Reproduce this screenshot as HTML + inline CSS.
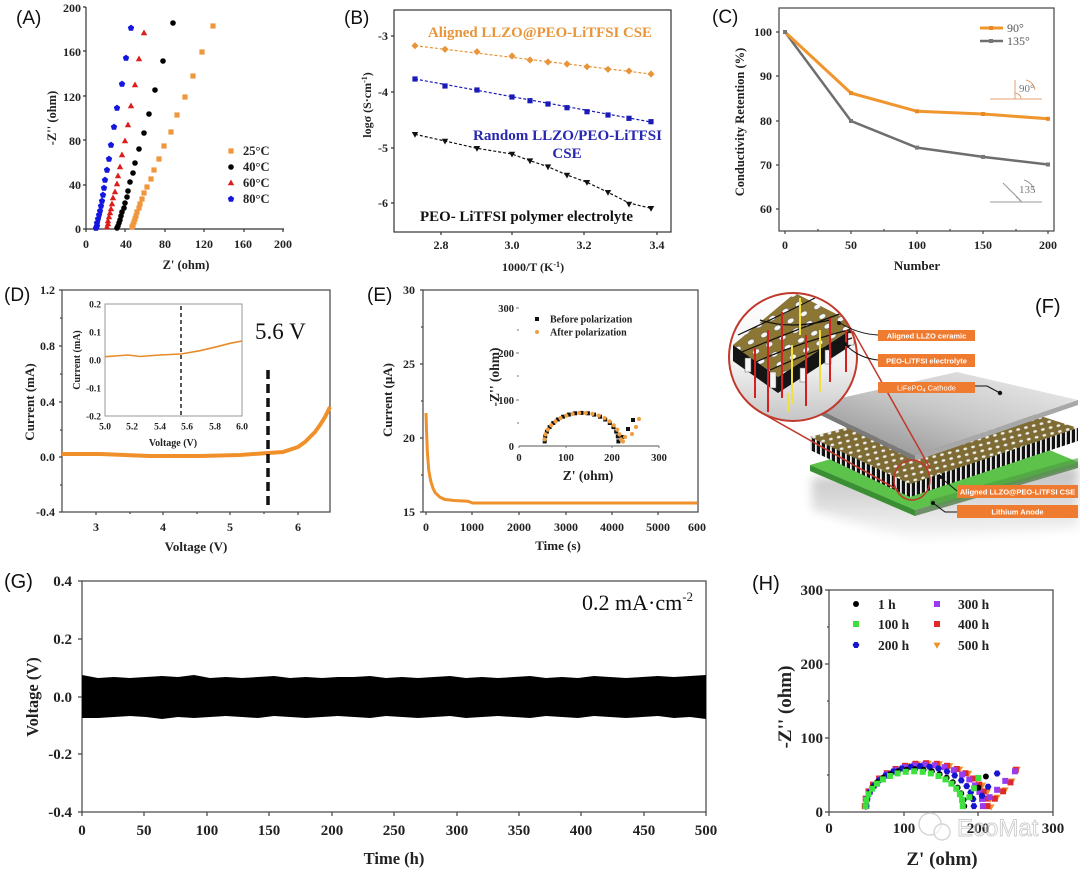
<!DOCTYPE html>
<html><head><meta charset="utf-8">
<style>
html,body{margin:0;padding:0;background:#fff;}
svg{display:block;}
.s{font-family:"Liberation Serif",serif;font-weight:bold;fill:#222;}
.r{font-family:"Liberation Serif",serif;}
.n{font-family:"Liberation Sans",sans-serif;fill:#111;}
</style></head><body>
<svg width="1080" height="871" viewBox="0 0 1080 871" xmlns="http://www.w3.org/2000/svg">
<defs>
<rect id="sq" x="-2.6" y="-2.6" width="5.2" height="5.2"/>
<rect id="sqs" x="-2" y="-2" width="4" height="4"/>
<rect id="sqh" x="-3" y="-3" width="6" height="6"/>
<path id="tu" d="M0,-3.5L3.2,2.3L-3.2,2.3Z"/>
<path id="td" d="M0,3.5L3.2,-2.3L-3.2,-2.3Z"/>
<path id="tdh" d="M0,3.8L3.5,-2.4L-3.5,-2.4Z"/>
<path id="pe" d="M0,-3.4L3.2,-1L2,2.8L-2,2.8L-3.2,-1Z"/>
<path id="hx" d="M-1.7,-3L1.7,-3L3.4,0L1.7,3L-1.7,3L-3.4,0Z"/>
<path id="di" d="M0,-3.6L3.6,0L0,3.6L-3.6,0Z"/>
<linearGradient id="gp" x1="0" y1="1" x2="1" y2="0"><stop offset="0" stop-color="#858585"/><stop offset="0.5" stop-color="#c6c6c6"/><stop offset="1" stop-color="#f0f0f0"/></linearGradient>
<pattern id="dots" width="8" height="6" patternUnits="userSpaceOnUse" patternTransform="rotate(-14)"><rect width="8" height="6" fill="#7f6c35"/><ellipse cx="4" cy="3" rx="1.9" ry="1.3" fill="#eeeeee"/></pattern>
<pattern id="dots2" width="15" height="11" patternUnits="userSpaceOnUse" patternTransform="rotate(-28)"><rect width="15" height="11" fill="#8c7634"/><ellipse cx="7.5" cy="5.5" rx="3.6" ry="2.4" fill="#f7f7f7" stroke="#555" stroke-width="0.5"/></pattern>
<pattern id="str" width="5" height="14" patternUnits="userSpaceOnUse"><rect width="5" height="14" fill="#111"/><rect width="1.8" height="14" fill="#eee"/></pattern>
<linearGradient id="cg" x1="0" y1="0" x2="0" y2="1"><stop offset="0" stop-color="#fff"/><stop offset="0.55" stop-color="#f2f2f2"/><stop offset="1" stop-color="#c2c2c2"/></linearGradient>
<linearGradient id="shg" x1="0" y1="0" x2="0" y2="1"><stop offset="0" stop-color="#bfbfbf"/><stop offset="1" stop-color="#fafafa"/></linearGradient>
<filter id="bl" x="-20%" y="-50%" width="140%" height="200%"><feGaussianBlur stdDeviation="5"/></filter>
<clipPath id="cc"><circle cx="793" cy="357" r="64"/></clipPath>
<clipPath id="ce"><rect x="0" y="280" width="706" height="290"/></clipPath>
<clipPath id="cgb"><rect x="82" y="581" width="624" height="231"/></clipPath>
</defs>
<rect width="1080" height="871" fill="#fff"/>

<!-- ================= PANEL A ================= -->
<text class="n" x="16" y="24" font-size="19">(A)</text>
<g stroke="#333" stroke-width="1.2" fill="none">
<path d="M86,7V229H284"/>
<path d="M86,229h-3M86,185h-3M86,140h-3M86,96h-3M86,51h-3M86,7h-3"/>
<path d="M86,229v3M125,229v3M165,229v3M204,229v3M244,229v3M283,229v3"/>
</g>
<g class="s" font-size="12" text-anchor="end">
<text x="81" y="233">0</text><text x="81" y="189">40</text><text x="81" y="145">80</text>
<text x="81" y="101">120</text><text x="81" y="56">160</text><text x="81" y="12">200</text>
</g>
<g class="s" font-size="12" text-anchor="middle">
<text x="86" y="248">0</text><text x="126" y="248">40</text><text x="165" y="248">80</text>
<text x="204" y="248">120</text><text x="243" y="248">160</text><text x="283" y="248">200</text>
<text x="186" y="269" font-size="12.5">Z' (ohm)</text>
<text transform="translate(56,118) rotate(-90)" font-size="12.5">-Z'' (ohm)</text>
</g>
<g fill="#f0963c">
<use href="#sq" x="213" y="26"/><use href="#sq" x="202" y="52"/><use href="#sq" x="193" y="76"/><use href="#sq" x="185" y="97"/><use href="#sq" x="177" y="115"/><use href="#sq" x="171" y="132"/><use href="#sq" x="164" y="146"/><use href="#sq" x="159" y="159"/><use href="#sq" x="154" y="170"/><use href="#sq" x="151" y="179"/><use href="#sq" x="147" y="187"/><use href="#sq" x="144" y="193"/><use href="#sq" x="142" y="199"/><use href="#sq" x="140" y="204"/><use href="#sq" x="139" y="208"/><use href="#sq" x="137" y="212"/><use href="#sq" x="136" y="216"/><use href="#sq" x="135" y="219"/><use href="#sq" x="134" y="222"/><use href="#sq" x="133" y="225"/><use href="#sq" x="132" y="227"/>
</g>
<g fill="#000">
<circle cx="173" cy="23" r="2.8"/><circle cx="163" cy="61" r="2.8"/><circle cx="155" cy="90" r="2.8"/><circle cx="149" cy="114" r="2.8"/><circle cx="144" cy="133" r="2.8"/><circle cx="139" cy="149" r="2.8"/><circle cx="135" cy="163" r="2.8"/><circle cx="133" cy="173" r="2.8"/><circle cx="130" cy="182" r="2.8"/><circle cx="128" cy="191" r="2.8"/><circle cx="127" cy="197" r="2.8"/><circle cx="125" cy="203" r="2.8"/><circle cx="124" cy="208" r="2.8"/><circle cx="122" cy="212" r="2.8"/><circle cx="121" cy="216" r="2.8"/><circle cx="120" cy="220" r="2.8"/><circle cx="119" cy="223" r="2.8"/><circle cx="118" cy="226" r="2.8"/><circle cx="117" cy="228" r="2.8"/>
</g>
<g fill="#dd1c1c">
<use href="#tu" x="144" y="33"/><use href="#tu" x="139" y="59"/><use href="#tu" x="135" y="85"/><use href="#tu" x="131" y="106"/><use href="#tu" x="128" y="125"/><use href="#tu" x="125" y="141"/><use href="#tu" x="122" y="155"/><use href="#tu" x="120" y="167"/><use href="#tu" x="118" y="176"/><use href="#tu" x="117" y="184"/><use href="#tu" x="115" y="192"/><use href="#tu" x="113" y="198"/><use href="#tu" x="112" y="204"/><use href="#tu" x="111" y="209"/><use href="#tu" x="110" y="213"/><use href="#tu" x="109" y="217"/><use href="#tu" x="108" y="221"/><use href="#tu" x="108" y="224"/><use href="#tu" x="107" y="227"/>
</g>
<g fill="#1515e0">
<use href="#pe" x="131" y="28"/><use href="#pe" x="126" y="58"/><use href="#pe" x="122" y="84"/><use href="#pe" x="117" y="108"/><use href="#pe" x="114" y="127"/><use href="#pe" x="111" y="145"/><use href="#pe" x="109" y="159"/><use href="#pe" x="107" y="170"/><use href="#pe" x="105" y="180"/><use href="#pe" x="104" y="188"/><use href="#pe" x="103" y="195"/><use href="#pe" x="102" y="201"/><use href="#pe" x="101" y="206"/><use href="#pe" x="100" y="211"/><use href="#pe" x="99" y="215"/><use href="#pe" x="98" y="219"/><use href="#pe" x="97" y="223"/><use href="#pe" x="97" y="226"/><use href="#pe" x="96" y="228"/>
</g>
<use href="#sq" x="231" y="151" fill="#f0963c"/>
<circle cx="231" cy="167" r="2.8" fill="#000"/>
<use href="#tu" x="231" y="183" fill="#dd1c1c"/>
<use href="#pe" x="231" y="199" fill="#1515e0"/>
<g class="s" font-size="12.5">
<text x="243" y="155">25°C</text><text x="243" y="171">40°C</text><text x="243" y="187">60°C</text><text x="243" y="203">80°C</text>
</g>

<!-- ================= PANEL B ================= -->
<text class="n" x="344" y="24" font-size="19">(B)</text>
<rect x="394" y="10" width="277" height="222" fill="none" stroke="#333" stroke-width="1.2"/>
<g stroke="#333" stroke-width="1.2">
<path d="M394,36h-3M394,92h-3M394,148h-3M394,203h-3"/>
<path d="M441,232v3M512,232v3M584,232v3M657,232v3"/>
</g>
<g class="s" font-size="12" text-anchor="end">
<text x="388" y="40">-3</text><text x="388" y="96">-4</text><text x="388" y="152">-5</text><text x="388" y="207">-6</text>
</g>
<g class="s" font-size="12" text-anchor="middle">
<text x="441" y="249">2.8</text><text x="512" y="249">3.0</text><text x="584" y="249">3.2</text><text x="657" y="249">3.4</text>
<text x="533" y="271" font-size="12">1000/T (K<tspan dy="-4" font-size="8">-1</tspan><tspan dy="4">)</tspan></text>
<text transform="translate(371,105) rotate(-90)" font-size="12">logσ (S·cm<tspan dy="-4" font-size="8">-1</tspan><tspan dy="4">)</tspan></text>
</g>
<g fill="none" stroke-width="1.2" stroke-dasharray="3 2">
<path d="M415,45.7L651,74" stroke="#e8953a"/>
<path d="M415,79L651,122" stroke="#1a1ab8"/>
<path d="M415,134.3L445,141L477,148.3L512,154L530,160.7L548,166.7L567,175L587,182.3L608,192.3L629,203L651,208.3" stroke="#111"/>
</g>
<g fill="#e8953a">
<use href="#di" x="415" y="45.7"/><use href="#di" x="445" y="49.3"/><use href="#di" x="477" y="51.7"/><use href="#di" x="512" y="56"/><use href="#di" x="530" y="60"/><use href="#di" x="548" y="62"/><use href="#di" x="567" y="64"/><use href="#di" x="587" y="66.7"/><use href="#di" x="608" y="69.3"/><use href="#di" x="629" y="71"/><use href="#di" x="651" y="74"/>
</g>
<g fill="#1a1ab8">
<use href="#sq" x="415" y="79"/><use href="#sq" x="445" y="86"/><use href="#sq" x="477" y="90"/><use href="#sq" x="512" y="97"/><use href="#sq" x="530" y="100.7"/><use href="#sq" x="548" y="104"/><use href="#sq" x="567" y="107.7"/><use href="#sq" x="587" y="111.7"/><use href="#sq" x="608" y="115"/><use href="#sq" x="629" y="118.3"/><use href="#sq" x="651" y="121.7"/>
</g>
<g fill="#111">
<use href="#td" x="415" y="134.3"/><use href="#td" x="445" y="141"/><use href="#td" x="477" y="148.3"/><use href="#td" x="512" y="154"/><use href="#td" x="530" y="160.7"/><use href="#td" x="548" y="166.7"/><use href="#td" x="567" y="175"/><use href="#td" x="587" y="182.3"/><use href="#td" x="608" y="192.3"/><use href="#td" x="629" y="204"/><use href="#td" x="651" y="208.3"/>
</g>
<text class="s" x="428" y="37" font-size="15" style="fill:#e8953a" textLength="224" lengthAdjust="spacingAndGlyphs">Aligned LLZO@PEO-LiTFSI CSE</text>
<text class="s" x="473" y="140" font-size="15" style="fill:#2727b0" textLength="189" lengthAdjust="spacingAndGlyphs">Random LLZO/PEO-LiTFSI</text>
<text class="s" x="567" y="158" font-size="15" style="fill:#2727b0" text-anchor="middle">CSE</text>
<text class="s" x="420" y="221" font-size="15" style="fill:#111" textLength="213" lengthAdjust="spacingAndGlyphs">PEO- LiTFSI polymer electrolyte</text>

<!-- ================= PANEL C ================= -->
<text class="n" x="712" y="23" font-size="19">(C)</text>
<rect x="779" y="8" width="275" height="223" fill="none" stroke="#444" stroke-width="1.2"/>
<g stroke="#444" stroke-width="1.2">
<path d="M779,32h-3M779,76h-3M779,121h-3M779,165h-3M779,209h-3"/>
<path d="M785,231v3M851,231v3M917,231v3M983,231v3M1048,231v3"/>
<path d="M818,231v-2M884,231v-2M950,231v-2M1016,231v-2"/>
</g>
<g class="s" font-size="12" text-anchor="end">
<text x="772" y="36">100</text><text x="772" y="80">90</text><text x="772" y="125">80</text><text x="772" y="169">70</text><text x="772" y="213">60</text>
</g>
<g class="s" font-size="12" text-anchor="middle">
<text x="785" y="249">0</text><text x="851" y="249">50</text><text x="917" y="249">100</text><text x="983" y="249">150</text><text x="1048" y="249">200</text>
<text x="917" y="270" font-size="13">Number</text>
<text transform="translate(744,122) rotate(-90)" font-size="12.5">Conductivity Retention (%)</text>
</g>
<polyline points="785,32 851,121 917,147.6 983,156.9 1048,164.5" fill="none" stroke="#6e6e6e" stroke-width="2.5"/>
<polyline points="785,32 851,93.1 917,111.3 983,114 1048,118.8" fill="none" stroke="#f0962e" stroke-width="3"/>
<g fill="#777"><use href="#sqs" x="785" y="32"/><use href="#sqs" x="851" y="121"/><use href="#sqs" x="917" y="147.6"/><use href="#sqs" x="983" y="156.9"/><use href="#sqs" x="1048" y="164.5"/></g>
<g fill="#e88a24"><use href="#sqs" x="851" y="93.1"/><use href="#sqs" x="917" y="111.3"/><use href="#sqs" x="983" y="114"/><use href="#sqs" x="1048" y="118.8"/></g>
<path d="M980,28H1003" stroke="#f0962e" stroke-width="3"/><use href="#sqs" x="991" y="28" fill="#e88a24"/>
<path d="M980,41H1003" stroke="#6e6e6e" stroke-width="2.5"/><use href="#sqs" x="991" y="41" fill="#777"/>
<text class="r" x="1007" y="32" font-size="12" fill="#555">90°</text>
<text class="r" x="1007" y="45" font-size="12" fill="#555">135°</text>
<g stroke="#e0a070" stroke-width="1" fill="none">
<path d="M990,99H1042"/><path d="M1015,80V99"/><path d="M1015,93a6,6 0 0 1 6,6"/>
<path d="M1026,80a12,12 0 0 1 9,10"/>
</g>
<text class="r" x="1019" y="92" font-size="11" fill="#777">90°</text>
<g stroke="#999" stroke-width="1" fill="none">
<path d="M990,202H1042"/><path d="M1003,183L1022,202"/><path d="M1016,197a6,6 0 0 1 4,4"/>
<path d="M1024,180a14,14 0 0 1 10,10"/>
</g>
<text class="r" x="1019" y="193" font-size="11" fill="#777">135</text>

<!-- ================= PANEL D ================= -->
<text class="n" x="4" y="301" font-size="19">(D)</text>
<rect x="62" y="290" width="268" height="222" fill="none" stroke="#444" stroke-width="1.2"/>
<g stroke="#444" stroke-width="1.2">
<path d="M62,290h-3M62,346h-3M62,402h-3M62,457h-3M62,512h-3M62,318h-2M62,374h-2M62,430h-2M62,485h-2"/>
<path d="M96,512v3M163,512v3M230,512v3M298,512v3M130,512v2M197,512v2M264,512v2"/>
</g>
<g class="s" font-size="12" text-anchor="end">
<text x="55" y="294">1.2</text><text x="55" y="350">0.8</text><text x="55" y="406">0.4</text><text x="55" y="461">0.0</text><text x="55" y="516">-0.4</text>
</g>
<g class="s" font-size="12" text-anchor="middle">
<text x="96" y="531">3</text><text x="163" y="531">4</text><text x="230" y="531">5</text><text x="298" y="531">6</text>
<text x="196" y="551" font-size="13">Voltage (V)</text>
<text transform="translate(34,402) rotate(-90)" font-size="13">Current (mA)</text>
</g>
<polyline points="62,454 100,454 125,455 150,456 200,456 240,455 268,453 283,452 298,447 305,442 310,437 315,432 320,425 325,417 330,407" fill="none" stroke="#f0902a" stroke-width="4"/>
<path d="M268,370V510" stroke="#111" stroke-width="3.5" stroke-dasharray="9 5"/>
<text class="r" x="255" y="339" font-size="23" fill="#111">5.6 V</text>
<rect x="105" y="304" width="137" height="112" fill="none" stroke="#999" stroke-width="1"/>
<g class="s" font-size="9.5" text-anchor="end">
<text x="101" y="307.5">0.2</text><text x="101" y="335.5">0.1</text><text x="101" y="363.5">0.0</text><text x="101" y="391.5">-0.1</text><text x="101" y="419.5">-0.2</text>
</g>
<g class="s" font-size="9.5" text-anchor="middle">
<text x="105" y="429.5">5.0</text><text x="132" y="429.5">5.2</text><text x="160" y="429.5">5.4</text><text x="187" y="429.5">5.6</text><text x="215" y="429.5">5.8</text><text x="242" y="429.5">6.0</text>
<text x="173" y="446" font-size="10">Voltage (V)</text>
<text transform="translate(80,360) rotate(-90)" font-size="10">Current (mA)</text>
</g>
<polyline points="105,356.7 115,356 128,355 140,356.5 160,355 181,354 200,350.7 217,346.7 230,343.3 242,341" fill="none" stroke="#e8892a" stroke-width="1.6"/>
<path d="M181,306V416" stroke="#222" stroke-width="1.5" stroke-dasharray="4 3"/>

<!-- ================= PANEL E ================= -->
<text class="n" x="367" y="301" font-size="19">(E)</text>
<rect x="423" y="290" width="275" height="222" fill="none" stroke="#444" stroke-width="1.2"/>
<g stroke="#444" stroke-width="1.2">
<path d="M423,290h-3M423,364h-3M423,438h-3M423,512h-3M423,327h-2M423,401h-2M423,475h-2"/>
<path d="M426,512v3M472,512v3M519,512v3M566,512v3M612,512v3M658,512v3"/>
</g>
<g class="s" font-size="12" text-anchor="end">
<text x="415" y="294">30</text><text x="415" y="368">25</text><text x="415" y="442">20</text><text x="415" y="516">15</text>
</g>
<g class="s" font-size="12" text-anchor="middle" clip-path="url(#ce)">
<text x="426" y="531">0</text><text x="472" y="531">1000</text><text x="519" y="531">2000</text><text x="566" y="531">3000</text><text x="612" y="531">4000</text><text x="658" y="531">5000</text><text x="700" y="531">6000</text>
</g>
<g class="s" font-size="13" text-anchor="middle">
<text x="558" y="550">Time (s)</text>
<text transform="translate(392,400) rotate(-90)">Current (μA)</text>
</g>
<polyline points="426,413 426.5,430.6 427.4,452.8 428.8,470.6 430.7,480.9 433,488.3 435.3,492.8 440,497.2 444.6,499.4 453.9,500.5 467.9,501.2 472.5,503 697,503" fill="none" stroke="#f0902a" stroke-width="3"/>
<!-- inset E -->
<path d="M519,446H659" stroke="#555" stroke-width="1"/>
<g stroke="#777" stroke-width="1"><path d="M516,308h3M517,330h2M516,353h3M517,376h2M516,400h3M517,423h2M519,446v2M566,446v2M612,446v2M659,446v2"/></g>
<g class="s" font-size="10.5" text-anchor="end">
<text x="514" y="312">300</text><text x="514" y="357">200</text><text x="514" y="404">100</text><text x="514" y="450">0</text>
</g>
<g class="s" font-size="10.5" text-anchor="middle">
<text x="519" y="461">0</text><text x="566" y="461">100</text><text x="612" y="461">200</text><text x="659" y="461">300</text>
<text x="588" y="480" font-size="13.5">Z' (ohm)</text>
<text transform="translate(499,377) rotate(-90)" font-size="13.5">-Z'' (ohm)</text>
</g>
<use href="#sqs" x="537" y="319" fill="#111"/>
<circle cx="537" cy="332" r="2" fill="#f0a040"/>
<text class="s" x="550" y="322.5" font-size="10">Before polarization</text>
<text class="s" x="550" y="335.5" font-size="10">After polarization</text>
<g fill="#111">
<use href="#sqs" x="544.7" y="441.4"/><use href="#sqs" x="545.2" y="436.4"/><use href="#sqs" x="546.9" y="431.6"/><use href="#sqs" x="549.6" y="427.1"/><use href="#sqs" x="553.3" y="423"/><use href="#sqs" x="557.8" y="419.5"/><use href="#sqs" x="563.1" y="416.7"/><use href="#sqs" x="568.9" y="414.6"/><use href="#sqs" x="575.1" y="413.3"/><use href="#sqs" x="581.5" y="412.9"/><use href="#sqs" x="587.9" y="413.3"/><use href="#sqs" x="594.1" y="414.6"/><use href="#sqs" x="600" y="416.7"/><use href="#sqs" x="605.2" y="419.5"/><use href="#sqs" x="609.8" y="423"/><use href="#sqs" x="613.5" y="427.1"/><use href="#sqs" x="616.2" y="431.6"/><use href="#sqs" x="617.8" y="436.4"/><use href="#sqs" x="618.4" y="441.4"/><use href="#sqs" x="622" y="437"/><use href="#sqs" x="628" y="429"/><use href="#sqs" x="633" y="420"/>
</g>
<g fill="#f0a040">
<circle cx="544.4" cy="439.4" r="2.1"/><circle cx="545.5" cy="434.4" r="2.1"/><circle cx="547.8" cy="429.6" r="2.1"/><circle cx="551.2" cy="425.3" r="2.1"/><circle cx="555.4" cy="421.4" r="2.1"/><circle cx="560.5" cy="418.1" r="2.1"/><circle cx="566.3" cy="415.6" r="2.1"/><circle cx="572.6" cy="413.9" r="2.1"/><circle cx="579.2" cy="413" r="2.1"/><circle cx="585.8" cy="413" r="2.1"/><circle cx="592.4" cy="413.9" r="2.1"/><circle cx="598.7" cy="415.6" r="2.1"/><circle cx="604.5" cy="418.1" r="2.1"/><circle cx="609.6" cy="421.4" r="2.1"/><circle cx="613.8" cy="425.3" r="2.1"/><circle cx="617.2" cy="429.6" r="2.1"/><circle cx="619.5" cy="434.4" r="2.1"/><circle cx="621" cy="439.4" r="2.1"/><circle cx="623" cy="441.5" r="2.1"/><circle cx="625" cy="437" r="2.1"/><circle cx="632" cy="434" r="2.1"/><circle cx="636" cy="427" r="2.1"/><circle cx="639" cy="419" r="2.1"/>
</g>

<!-- ================= PANEL F ================= -->
<polygon points="812,478 1078,466 1078,528 915,540 812,510" fill="url(#shg)" filter="url(#bl)"/>
<!-- green anode -->
<polygon points="810,465 973,418 1078,462 915,510" fill="#5cc24a"/>
<polygon points="810,465 915,510 915,516 810,471" fill="#3a8f33"/>
<polygon points="915,510 1078,462 1078,468 915,516" fill="#6f8f68"/>
<polygon points="930,500 1078,458 1078,466 930,508" fill="#4c9a42" opacity="0.6"/>
<!-- composite -->
<polygon points="810,437 975,395 1078,428 910,484" fill="url(#dots)"/>
<polygon points="810,437 910,484 910,497 810,450" fill="url(#str)"/>
<polygon points="910,484 1078,428 1078,441 910,497" fill="url(#str)"/>
<!-- cathode plate -->
<polygon points="810,405 957,372 1078,400 915,456" fill="url(#gp)"/>
<polygon points="810,405 915,456 915,461 810,410" fill="#7a7a7a"/>
<polygon points="915,456 1078,400 1078,405 915,461" fill="#a8a8a8"/>
<!-- magnifier -->
<g clip-path="url(#cc)">
<rect x="725" y="290" width="140" height="135" fill="url(#cg)"/>
<polygon points="805,425 860,392 875,430 805,430" fill="#a0a0a0"/>
<polygon points="733,345 778,377 858,325 858,341 778,393 733,361" fill="#151515"/>
<polygon points="733,345 795,293 858,325 778,377" fill="url(#dots2)"/>
<g fill="#f4f4f4" stroke="#666" stroke-width="0.5">
<rect x="745" y="358" width="6" height="14"/><rect x="770" y="372" width="6" height="16"/><rect x="800" y="368" width="6" height="14"/><rect x="825" y="350" width="6" height="14"/><rect x="848" y="333" width="6" height="12"/>
</g>
<g stroke="#111" stroke-width="1.2" fill="none">
<path d="M738,335Q775,318 815,298"/><path d="M742,352Q790,332 845,312"/><path d="M756,362Q800,342 856,328"/><path d="M770,370Q810,352 852,338"/><path d="M760,320Q790,330 830,320"/>
</g>
<g stroke="#d42020" stroke-width="2">
<path d="M755,348V398"/><path d="M768,330V412"/><path d="M782,312V398"/><path d="M806,335V406"/><path d="M830,318V382"/><path d="M846,330V372"/>
</g>
<g stroke="#f2e040" stroke-width="2">
<path d="M800,298V335"/><path d="M792,345V404"/><path d="M820,330V392"/><path d="M788,393V412"/>
</g>
</g>
<circle cx="793" cy="357" r="64" fill="none" stroke="#c0392b" stroke-width="2"/>
<g stroke="#c0392b" stroke-width="1.5" fill="none">
<path d="M760,412L898,490"/><path d="M853,331L930,468"/>
<ellipse cx="912" cy="480" rx="18" ry="20"/>
</g>
<g stroke="#111" stroke-width="1" fill="none">
<path d="M878,335Q858,334 840,323"/><path d="M878,360Q858,358 845,344"/><path d="M975,386H987L1000,393"/><path d="M957,491L940,477"/><path d="M957,512L945,512L933,503"/>
</g>
<g fill="#111"><circle cx="839" cy="323" r="2"/><circle cx="845" cy="344" r="2"/><circle cx="1000" cy="393" r="2.2"/><circle cx="940" cy="477" r="2"/><circle cx="933" cy="503" r="2"/></g>
<g fill="#ee7b30">
<rect x="878" y="330" width="97" height="11"/><rect x="878" y="354" width="97" height="13"/><rect x="878" y="382" width="97" height="11"/><rect x="957" y="485" width="121" height="13"/><rect x="957" y="505" width="121" height="13"/>
</g>
<g class="n" font-size="7.5" font-weight="bold" text-anchor="middle" style="fill:#fff">
<text x="926.5" y="338.5">Aligned LLZO ceramic</text>
<text x="926.5" y="363.5">PEO-LiTFSI electrolyte</text>
<text x="926.5" y="390.5" font-weight="normal">LiFePO<tspan font-size="5.5" dy="1.5">4</tspan><tspan dy="-1.5"> Cathode</tspan></text>
<text x="1017.5" y="494.5">Aligned LLZO@PEO-LiTFSI CSE</text>
<text x="1017.5" y="514.5">Lithium Anode</text>
</g>
<text class="n" x="1035" y="313" font-size="20">(F)</text>

<!-- ================= PANEL G ================= -->
<text class="n" x="4" y="588" font-size="20">(G)</text>
<rect x="82" y="581" width="624" height="231" fill="none" stroke="#444" stroke-width="1.2"/>
<g stroke="#444" stroke-width="1.2">
<path d="M82,581h-4M82,639h-4M82,697h-4M82,754h-4M82,812h-4"/>
<path d="M82,812v4M144,812v4M207,812v4M269,812v4M332,812v4M394,812v4M457,812v4M519,812v4M581,812v4M644,812v4M706,812v4"/>
</g>
<g class="s" font-size="15" text-anchor="end">
<text x="72" y="586">0.4</text><text x="72" y="644">0.2</text><text x="72" y="702">0.0</text><text x="72" y="759">-0.2</text><text x="72" y="817">-0.4</text>
</g>
<g class="s" font-size="15" text-anchor="middle">
<text x="82" y="835">0</text><text x="144" y="835">50</text><text x="207" y="835">100</text><text x="269" y="835">150</text><text x="332" y="835">200</text><text x="394" y="835">250</text><text x="457" y="835">300</text><text x="519" y="835">350</text><text x="581" y="835">400</text><text x="644" y="835">450</text><text x="706" y="835">500</text>
<text x="394" y="864" font-size="16.5">Time (h)</text>
<text transform="translate(38,697) rotate(-90)" font-size="16.5">Voltage (V)</text>
</g>
<path clip-path="url(#cgb)" fill="#000" d="M82,675L98,678L114,677L130,678L146,677L162,676L178,677L194,675L210,678L226,677L242,678L258,677L274,676L290,678L306,677L322,678L338,677L354,677L370,676L386,678L402,677L418,678L434,677L450,676L466,678L482,677L498,678L514,677L530,676L546,678L562,677L578,678L594,676L610,677L626,678L642,677L658,676L674,677L690,676L706,675L706,719L690,717L674,718L658,716L642,717L626,718L610,717L594,716L578,718L562,717L546,716L530,718L514,717L498,716L482,717L466,718L450,716L434,717L418,718L402,717L386,716L370,718L354,717L338,716L322,717L306,718L290,717L274,716L258,718L242,717L226,716L210,717L194,718L178,717L162,719L146,717L130,716L114,717L98,718L82,718Z"/>
<text class="r" x="582" y="610" font-size="22" fill="#111">0.2 mA·cm<tspan dy="-9" font-size="13">-2</tspan></text>

<!-- ================= PANEL H ================= -->
<text class="n" x="752" y="590" font-size="20">(H)</text>
<rect x="829" y="590" width="224" height="222" fill="none" stroke="#444" stroke-width="1.2"/>
<g stroke="#444" stroke-width="1.2">
<path d="M829,590h-4M829,664h-4M829,738h-4M829,812h-4M829,627h-2M829,701h-2M829,775h-2"/>
<path d="M829,812v4M904,812v4M978,812v4M1053,812v4"/>
</g>
<g class="s" font-size="15" text-anchor="end">
<text x="823" y="595">300</text><text x="823" y="669">200</text><text x="823" y="743">100</text><text x="823" y="817">0</text>
</g>
<g class="s" font-size="15" text-anchor="middle">
<text x="829" y="833">0</text><text x="904" y="833">100</text><text x="978" y="833">200</text><text x="1053" y="833">300</text>
<text x="942" y="865" font-size="19">Z' (ohm)</text>
<text transform="translate(791,707) rotate(-90)" font-size="19">-Z'' (ohm)</text>
</g>
<circle cx="856" cy="604" r="3" fill="#000"/>
<use href="#sqh" x="856" y="624" fill="#3ee03e"/>
<use href="#hx" x="856" y="645" fill="#1515d0"/>
<use href="#sqh" x="937" y="604" fill="#9a3bef"/>
<use href="#sqh" x="937" y="624" fill="#e02a2a"/>
<use href="#tdh" x="937" y="645" fill="#f0902a"/>
<g class="s" font-size="13.5">
<text x="878" y="609">1 h</text><text x="878" y="629">100 h</text><text x="878" y="650">200 h</text>
<text x="958" y="609">300 h</text><text x="958" y="629">400 h</text><text x="958" y="650">500 h</text>
</g>
<g fill="#f0902a">
<use href="#tdh" x="865.7" y="806.8"/><use href="#tdh" x="866.6" y="799.2"/><use href="#tdh" x="869.5" y="791.9"/><use href="#tdh" x="874.1" y="785"/><use href="#tdh" x="880.4" y="778.7"/><use href="#tdh" x="888.1" y="773.3"/><use href="#tdh" x="897" y="769"/><use href="#tdh" x="907" y="765.7"/><use href="#tdh" x="917.5" y="763.8"/><use href="#tdh" x="928.4" y="763.1"/><use href="#tdh" x="939.3" y="763.8"/><use href="#tdh" x="949.8" y="765.7"/><use href="#tdh" x="959.8" y="769"/><use href="#tdh" x="968.7" y="773.3"/><use href="#tdh" x="976.4" y="778.7"/><use href="#tdh" x="982.7" y="785"/><use href="#tdh" x="987.3" y="791.9"/><use href="#tdh" x="990.2" y="799.2"/><use href="#tdh" x="991.1" y="806.8"/><use href="#tdh" x="997.1" y="797.2"/><use href="#tdh" x="1005.3" y="789.8"/><use href="#tdh" x="1012" y="780.9"/><use href="#tdh" x="1017.2" y="769.1"/>
</g>
<g fill="#e02a2a">
<use href="#sqh" x="864.8" y="806.1"/><use href="#sqh" x="865.7" y="798.6"/><use href="#sqh" x="868.5" y="791.4"/><use href="#sqh" x="873" y="784.6"/><use href="#sqh" x="879.1" y="778.5"/><use href="#sqh" x="886.7" y="773.2"/><use href="#sqh" x="895.5" y="769"/><use href="#sqh" x="905.1" y="765.8"/><use href="#sqh" x="915.4" y="763.8"/><use href="#sqh" x="926.1" y="763.2"/><use href="#sqh" x="936.8" y="763.8"/><use href="#sqh" x="947.1" y="765.8"/><use href="#sqh" x="956.8" y="769"/><use href="#sqh" x="965.5" y="773.2"/><use href="#sqh" x="973.1" y="778.5"/><use href="#sqh" x="979.2" y="784.6"/><use href="#sqh" x="983.7" y="791.4"/><use href="#sqh" x="986.5" y="798.6"/><use href="#sqh" x="987.4" y="806.1"/><use href="#sqh" x="994.8" y="798.7"/><use href="#sqh" x="1003.1" y="791.3"/><use href="#sqh" x="1010.5" y="782.4"/><use href="#sqh" x="1015.8" y="769.8"/>
</g>
<g fill="#9a3bef">
<use href="#sqh" x="866.3" y="806.1"/><use href="#sqh" x="867.2" y="798.9"/><use href="#sqh" x="869.8" y="791.9"/><use href="#sqh" x="874.1" y="785.4"/><use href="#sqh" x="879.9" y="779.5"/><use href="#sqh" x="887.1" y="774.4"/><use href="#sqh" x="895.5" y="770.2"/><use href="#sqh" x="904.7" y="767.2"/><use href="#sqh" x="914.5" y="765.3"/><use href="#sqh" x="924.6" y="764.7"/><use href="#sqh" x="934.7" y="765.3"/><use href="#sqh" x="944.5" y="767.2"/><use href="#sqh" x="953.8" y="770.2"/><use href="#sqh" x="962.1" y="774.4"/><use href="#sqh" x="969.3" y="779.5"/><use href="#sqh" x="975.1" y="785.4"/><use href="#sqh" x="979.4" y="791.9"/><use href="#sqh" x="982" y="798.9"/><use href="#sqh" x="982.9" y="806.1"/><use href="#sqh" x="989.6" y="797.2"/><use href="#sqh" x="997.1" y="789.8"/><use href="#sqh" x="1005.3" y="780.9"/><use href="#sqh" x="1015" y="771.3"/>
</g>
<g fill="#1515d0">
<use href="#hx" x="866.3" y="806.1"/><use href="#hx" x="867.1" y="799.1"/><use href="#hx" x="869.5" y="792.4"/><use href="#hx" x="873.5" y="786.1"/><use href="#hx" x="878.9" y="780.4"/><use href="#hx" x="885.5" y="775.5"/><use href="#hx" x="893.2" y="771.5"/><use href="#hx" x="901.7" y="768.5"/><use href="#hx" x="910.7" y="766.7"/><use href="#hx" x="920.1" y="766.1"/><use href="#hx" x="929.5" y="766.7"/><use href="#hx" x="938.5" y="768.5"/><use href="#hx" x="947" y="771.5"/><use href="#hx" x="954.7" y="775.5"/><use href="#hx" x="961.3" y="780.4"/><use href="#hx" x="966.7" y="786.1"/><use href="#hx" x="970.7" y="792.4"/><use href="#hx" x="973.1" y="799.1"/><use href="#hx" x="973.9" y="806.1"/><use href="#hx" x="982.1" y="795.7"/><use href="#hx" x="988.1" y="786.8"/><use href="#hx" x="997.1" y="773.5"/>
</g>
<g fill="#000">
<circle cx="865.6" cy="806.1" r="3"/><circle cx="866.3" cy="799.7" r="3"/><circle cx="868.6" cy="793.4" r="3"/><circle cx="872.2" cy="787.6" r="3"/><circle cx="877.1" cy="782.3" r="3"/><circle cx="883.2" cy="777.8" r="3"/><circle cx="890.3" cy="774.1" r="3"/><circle cx="898" cy="771.3" r="3"/><circle cx="906.3" cy="769.7" r="3"/><circle cx="914.9" cy="769.1" r="3"/><circle cx="923.5" cy="769.7" r="3"/><circle cx="931.8" cy="771.3" r="3"/><circle cx="939.6" cy="774.1" r="3"/><circle cx="946.6" cy="777.8" r="3"/><circle cx="952.7" cy="782.3" r="3"/><circle cx="957.6" cy="787.6" r="3"/><circle cx="961.2" cy="793.4" r="3"/><circle cx="963.5" cy="799.7" r="3"/><circle cx="964.2" cy="806.1" r="3"/><circle cx="970.9" cy="797.2" r="3"/><circle cx="978.4" cy="787.6" r="3"/><circle cx="985.9" cy="776.5" r="3"/>
</g>
<g fill="#3ee03e">
<use href="#sqh" x="865.6" y="806.1"/><use href="#sqh" x="866.3" y="800"/><use href="#sqh" x="868.5" y="794.2"/><use href="#sqh" x="872.1" y="788.7"/><use href="#sqh" x="877" y="783.7"/><use href="#sqh" x="883" y="779.4"/><use href="#sqh" x="889.9" y="776"/><use href="#sqh" x="897.6" y="773.4"/><use href="#sqh" x="905.7" y="771.8"/><use href="#sqh" x="914.2" y="771.3"/><use href="#sqh" x="922.7" y="771.8"/><use href="#sqh" x="930.8" y="773.4"/><use href="#sqh" x="938.5" y="776"/><use href="#sqh" x="945.4" y="779.4"/><use href="#sqh" x="951.4" y="783.7"/><use href="#sqh" x="956.3" y="788.7"/><use href="#sqh" x="959.9" y="794.2"/><use href="#sqh" x="962.1" y="800"/><use href="#sqh" x="962.8" y="806.1"/><use href="#sqh" x="969.4" y="797.2"/><use href="#sqh" x="973.9" y="788.3"/><use href="#sqh" x="978.4" y="778"/>
</g>
<g opacity="0.75">
<circle cx="930" cy="824" r="11" fill="#fff" fill-opacity="0.6" stroke="#c8c8c8" stroke-width="1.5"/>
<circle cx="942" cy="832" r="8" fill="#fff" fill-opacity="0.6" stroke="#c8c8c8" stroke-width="1.5"/>
<text class="n" x="957" y="836" font-size="24" style="fill:#fff;fill-opacity:0.5" stroke="#bdbdbd" stroke-width="0.9">EcoMat</text>
</g>
</svg>
</body></html>
